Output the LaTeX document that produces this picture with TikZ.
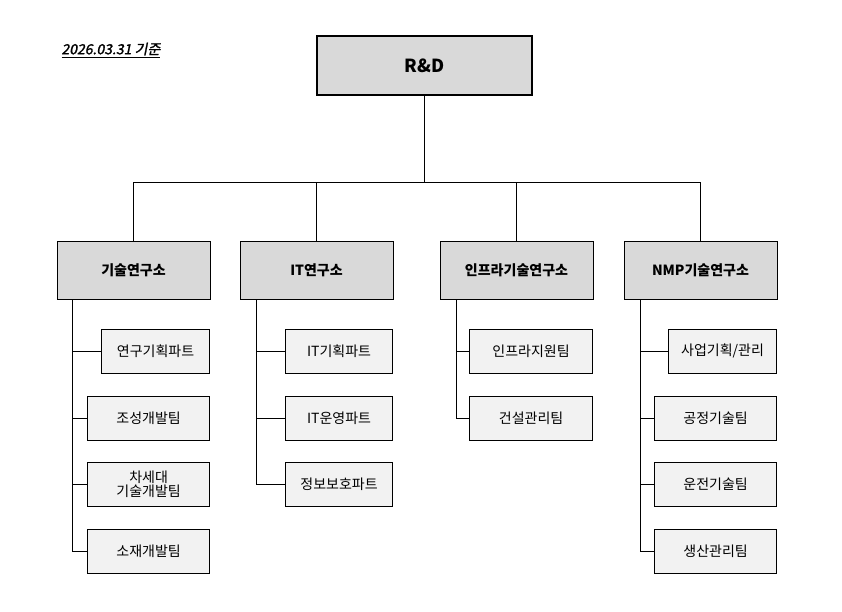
\documentclass[tikz,border=0pt]{standalone}
\usepackage{fontspec}
\setmainfont{Noto Sans CJK KR}
\newfontfamily\slfont[FakeSlant=0.2,FakeBold=1.5]{Noto Sans CJK KR}
\begin{document}
\begin{tikzpicture}[x=1pt,y=-1pt,
  top/.style={draw,line width=1.8pt,fill=black!15,font=\bfseries\fontsize{18}{21}\selectfont},
  lv/.style={draw,line width=0.8pt,fill=black!15,font=\bfseries\fontsize{14}{17}\selectfont},
  sb/.style={draw,line width=0.8pt,fill=black!5,font=\fontsize{14}{17}\selectfont,align=center},
  ln/.style={line width=0.7pt}]
\useasboundingbox (0,0) rectangle (842,611);
\node[top,minimum width=215pt,minimum height=59pt] (rd) at (424.5,65.5) {R\&D};
\node[anchor=west,font=\slfont\fontsize{14}{16}\selectfont] (dt) at (58,50) {\underline{2026.03.31 기준}};
\foreach \n/\x/\t in {a/133.5/기술연구소,b/316.5/IT연구소,c/516.5/인프라기술연구소,d/700.5/NMP기술연구소}{
  \node[lv,minimum width=153pt,minimum height=58pt] (\n) at (\x,270) {\t};
}
\coordinate (bus) at (424.5,182);
\draw[ln] (rd.south) -- (bus);
\foreach \n in {a,b,c,d}{\draw[ln] (\n.north) -- (\n.north|-bus);}
\draw[ln] (a.north|-bus) -- (d.north|-bus);
% subs
\def\mk#1#2#3#4#5{\node[sb,minimum width=#3pt,minimum height=44pt,anchor=east] (#1) at (#2,#4) {#5};}
\mk{a1}{210}{108}{351}{연구기획파트}
\mk{a2}{210}{122}{418}{조성개발팀}
\mk{a3}{210}{122}{484}{차세대\\[-3pt]기술개발팀}
\mk{a4}{210}{122}{551}{소재개발팀}
\mk{b1}{393}{107}{351}{IT기획파트}
\mk{b2}{393}{107}{418}{IT운영파트}
\mk{b3}{393}{107}{484}{정보보호파트}
\mk{c1}{593}{123}{351}{인프라지원팀}
\mk{c2}{593}{123}{418}{건설관리팀}
\mk{d1}{777}{108}{351}{사업기획/관리}
\mk{d2}{777}{122}{418}{공정기술팀}
\mk{d3}{777}{122}{484}{운전기술팀}
\mk{d4}{777}{122}{551}{생산관리팀}
\coordinate (va) at (72,551); \coordinate (vb) at (256,484);
\coordinate (vc) at (456,418); \coordinate (vd) at (640,551);
\draw[ln] (a.south-|va) -- (va);
\draw[ln] (b.south-|vb) -- (vb);
\draw[ln] (c.south-|vc) -- (vc);
\draw[ln] (d.south-|vd) -- (vd);
\foreach \s in {a1,a2,a3,a4}{\draw[ln] (\s.west) -- (\s.west-|va);}
\foreach \s in {b1,b2,b3}{\draw[ln] (\s.west) -- (\s.west-|vb);}
\foreach \s in {c1,c2}{\draw[ln] (\s.west) -- (\s.west-|vc);}
\foreach \s in {d1,d2,d3,d4}{\draw[ln] (\s.west) -- (\s.west-|vd);}
\end{tikzpicture}
\end{document}
